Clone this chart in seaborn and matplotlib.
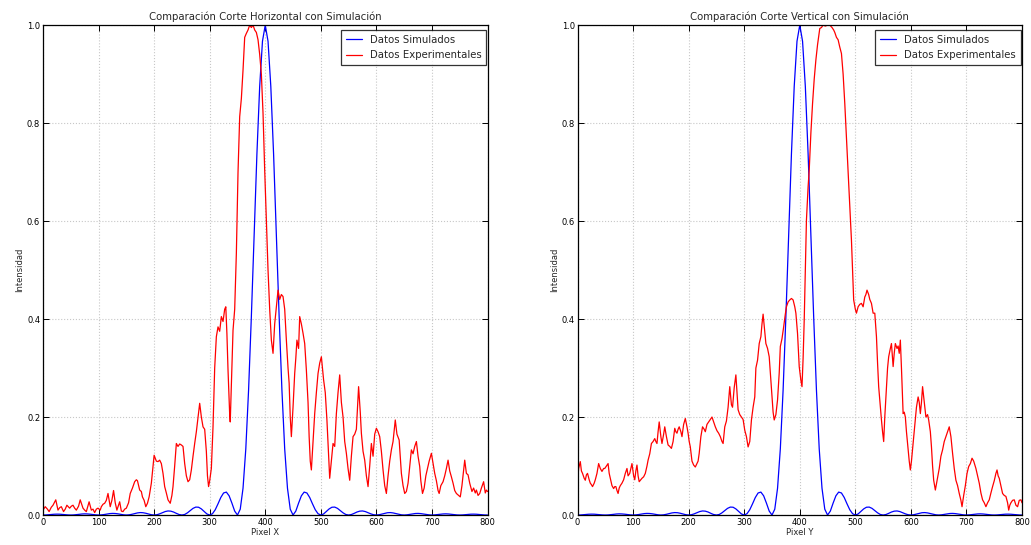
import matplotlib
matplotlib.use("Agg")
import matplotlib.pyplot as plt
import seaborn as sns
import pandas as pd

# ---------------- data ----------------
sim_x = [0, 5, 10, 15, 20, 25, 30, 35, 40, 45, 50, 55, 60, 65, 70, 75, 80, 85, 90, 95,
         100, 105, 110, 115, 120, 125, 130, 135, 140, 145, 150, 155, 160, 165, 170, 175,
         180, 185, 190, 195, 200, 205, 210, 215, 220, 225, 230, 235, 240, 245, 250, 255,
         260, 265, 270, 275, 280, 285, 290, 295, 300, 305, 310, 315, 320, 325, 330, 335,
         340, 345, 350, 355, 360, 365, 370, 375, 380, 385, 390, 395, 400, 405, 410, 415,
         420, 425, 430, 435, 440, 445, 450, 455, 460, 465, 470, 475, 480, 485, 490, 495,
         500, 505, 510, 515, 520, 525, 530, 535, 540, 545, 550, 555, 560, 565, 570, 575,
         580, 585, 590, 595, 600, 605, 610, 615, 620, 625, 630, 635, 640, 645, 650, 655,
         660, 665, 670, 675, 680, 685, 690, 695, 700, 705, 710, 715, 720, 725, 730, 735,
         740, 745, 750, 755, 760, 765, 770, 775, 780, 785, 790, 795, 800]
sim_y = [0.0, 0.0001, 0.0005, 0.0011, 0.0016, 0.0018, 0.0017, 0.0013, 0.0007, 0.0002,
         0.0, 0.0002, 0.0007, 0.0014, 0.0021, 0.0024, 0.0022, 0.0017, 0.0009, 0.0003,
         0.0, 0.0003, 0.0010, 0.0020, 0.0029, 0.0033, 0.0031, 0.0024, 0.0013, 0.0004,
         0.0, 0.0004, 0.0015, 0.0030, 0.0043, 0.0050, 0.0047, 0.0036, 0.0020, 0.0006,
         0.0, 0.0006, 0.0024, 0.0048, 0.0071, 0.0083, 0.0079, 0.0061, 0.0034, 0.0010,
         0.0, 0.0011, 0.0045, 0.0091, 0.0136, 0.0162, 0.0159, 0.0125, 0.0072, 0.0022,
         0.0, 0.0027, 0.0108, 0.0229, 0.0358, 0.0450, 0.0468, 0.0392, 0.0243, 0.0080,
         0.0, 0.0119, 0.0547, 0.135, 0.255, 0.405, 0.573, 0.737, 0.875, 0.967,
         1.0,
         0.967, 0.875, 0.737, 0.573, 0.405, 0.255, 0.135, 0.0547, 0.0119, 0.0,
         0.0080, 0.0243, 0.0392, 0.0468, 0.0450, 0.0358, 0.0229, 0.0108, 0.0027, 0.0,
         0.0022, 0.0072, 0.0125, 0.0159, 0.0162, 0.0136, 0.0091, 0.0045, 0.0011, 0.0,
         0.0010, 0.0034, 0.0061, 0.0079, 0.0083, 0.0071, 0.0048, 0.0024, 0.0006, 0.0,
         0.0006, 0.0020, 0.0036, 0.0047, 0.0050, 0.0043, 0.0030, 0.0015, 0.0004, 0.0,
         0.0004, 0.0013, 0.0024, 0.0031, 0.0033, 0.0029, 0.0020, 0.0010, 0.0003, 0.0,
         0.0003, 0.0009, 0.0017, 0.0022, 0.0024, 0.0021, 0.0014, 0.0007, 0.0002, 0.0,
         0.0002, 0.0007, 0.0013, 0.0017, 0.0018, 0.0016, 0.0011, 0.0005, 0.0001, 0.0]

horiz_x = [0, 4, 8, 11, 15, 18, 23, 27, 30, 33, 37, 40, 43, 48, 51, 54, 57, 60, 64, 67,
           72, 75, 78, 83, 87, 90, 93, 96, 99, 103, 105, 108, 111, 114, 117, 121, 124, 127,
           130, 133, 136, 138, 141, 144, 147, 150, 154, 157, 161, 165, 168, 170, 174, 177,
           179, 182, 185, 188, 191, 195, 198, 200, 204, 207, 210, 213, 216, 219, 222, 225,
           229, 232, 234, 237, 240, 243, 246, 249, 252, 255, 258, 261, 264, 267, 270, 273,
           276, 279, 282, 285, 288, 291, 294, 296, 298, 300, 303, 306, 309, 312, 315, 318,
           321, 324, 327, 329, 331, 333, 336, 337, 340, 342, 345, 348, 351, 354, 357, 360,
           363, 366, 369, 372, 375, 378, 381, 384, 387, 390, 393, 396, 399, 402, 405, 408,
           411, 414, 417, 420, 423, 426, 429, 432, 435, 438, 441, 443, 445, 447, 450, 453,
           455, 457, 460, 462, 465, 468, 471, 474, 477, 479, 481, 483, 486, 489, 492, 495,
           498, 501, 503, 505, 508, 511, 514, 516, 519, 522, 525, 528, 531, 534, 537, 540,
           543, 546, 549, 552, 555, 558, 561, 564, 566, 568, 571, 573, 576, 579, 582, 585,
           588, 591, 594, 597, 600, 603, 606, 609, 612, 615, 618, 621, 624, 627, 630, 634,
           637, 641, 643, 645, 648, 651, 654, 657, 660, 663, 666, 669, 672, 675, 678, 680,
           683, 686, 689, 692, 695, 699, 702, 705, 708, 711, 713, 716, 720, 723, 726, 729,
           732, 735, 738, 741, 744, 748, 751, 754, 757, 759, 762, 765, 768, 772, 775, 778,
           780, 783, 786, 789, 793, 796, 798, 800]
horiz_y = [0.010, 0.017, 0.012, 0.007, 0.016, 0.020, 0.031, 0.010, 0.015, 0.017, 0.007,
           0.012, 0.020, 0.014, 0.018, 0.020, 0.014, 0.010, 0.018, 0.031, 0.014, 0.010,
           0.007, 0.027, 0.010, 0.012, 0.005, 0.012, 0.014, 0.010, 0.017, 0.022, 0.024,
           0.030, 0.044, 0.017, 0.030, 0.050, 0.025, 0.010, 0.020, 0.027, 0.008, 0.007,
           0.012, 0.014, 0.025, 0.044, 0.055, 0.068, 0.072, 0.070, 0.051, 0.048, 0.037,
           0.030, 0.017, 0.024, 0.037, 0.065, 0.100, 0.122, 0.110, 0.109, 0.112, 0.105,
           0.085, 0.058, 0.045, 0.031, 0.024, 0.040, 0.058, 0.100, 0.146, 0.140, 0.145,
           0.143, 0.140, 0.105, 0.080, 0.068, 0.072, 0.092, 0.120, 0.146, 0.170, 0.200,
           0.228, 0.200, 0.180, 0.175, 0.130, 0.080, 0.058, 0.070, 0.095, 0.180, 0.300,
           0.364, 0.384, 0.375, 0.405, 0.395, 0.420, 0.425, 0.370, 0.296, 0.205, 0.190,
           0.300, 0.377, 0.420, 0.534, 0.700, 0.813, 0.850, 0.908, 0.975, 0.983, 0.990,
           1.000, 0.995, 1.000, 0.990, 0.985, 0.970, 0.940, 0.900, 0.820, 0.704, 0.600,
           0.500, 0.420, 0.357, 0.330, 0.390, 0.425, 0.459, 0.440, 0.450, 0.446, 0.420,
           0.357, 0.300, 0.269, 0.200, 0.160, 0.220, 0.289, 0.320, 0.357, 0.340, 0.405,
           0.390, 0.371, 0.350, 0.296, 0.230, 0.160, 0.110, 0.092, 0.150, 0.207, 0.250,
           0.289, 0.310, 0.323, 0.300, 0.276, 0.250, 0.194, 0.120, 0.075, 0.110, 0.146,
           0.140, 0.207, 0.250, 0.286, 0.230, 0.200, 0.150, 0.126, 0.095, 0.071, 0.120,
           0.160, 0.165, 0.175, 0.220, 0.262, 0.210, 0.167, 0.130, 0.112, 0.080, 0.058,
           0.100, 0.146, 0.120, 0.165, 0.177, 0.170, 0.160, 0.130, 0.092, 0.060, 0.044,
           0.080, 0.110, 0.133, 0.150, 0.194, 0.165, 0.153, 0.120, 0.085, 0.060, 0.044,
           0.048, 0.065, 0.100, 0.133, 0.125, 0.140, 0.150, 0.120, 0.099, 0.070, 0.044,
           0.055, 0.080, 0.095, 0.110, 0.126, 0.105, 0.085, 0.070, 0.050, 0.044, 0.060,
           0.068, 0.080, 0.095, 0.112, 0.090, 0.078, 0.065, 0.050, 0.044, 0.040, 0.037,
           0.060, 0.090, 0.112, 0.085, 0.082, 0.065, 0.048, 0.055, 0.045, 0.051, 0.040,
           0.044, 0.055, 0.068, 0.045, 0.051, 0.048]

vert_x = [0, 2, 5, 7, 9, 12, 14, 16, 18, 21, 23, 25, 27, 30, 32, 35, 38, 41, 44, 47, 49,
          52, 55, 57, 59, 62, 65, 67, 69, 71, 73, 75, 77, 80, 83, 86, 89, 91, 94, 96, 98,
          101, 103, 105, 107, 109, 111, 114, 116, 119, 122, 125, 127, 130, 133, 136, 139,
          141, 143, 145, 147, 150, 152, 155, 157, 160, 163, 166, 169, 172, 175, 177, 179,
          181, 183, 186, 188, 191, 194, 197, 199, 201, 203, 206, 209, 212, 215, 217, 219,
          222, 225, 228, 230, 233, 236, 239, 242, 245, 248, 251, 254, 257, 260, 262, 265,
          268, 271, 274, 277, 279, 282, 285, 287, 289, 292, 295, 298, 301, 304, 307, 310,
          313, 316, 319, 321, 324, 327, 330, 332, 334, 337, 339, 342, 345, 347, 349, 352,
          354, 357, 360, 363, 365, 368, 371, 374, 376, 379, 382, 385, 388, 391, 393, 396,
          399, 402, 404, 406, 408, 410, 412, 415, 417, 420, 423, 426, 429, 432, 436, 439,
          442, 446, 450, 454, 458, 461, 463, 466, 469, 472, 475, 478, 481, 484, 487, 490,
          493, 495, 497, 500, 502, 505, 508, 511, 514, 517, 519, 521, 524, 526, 529, 532,
          535, 538, 540, 542, 545, 547, 549, 551, 553, 556, 558, 560, 563, 565, 568, 570,
          572, 575, 577, 579, 581, 583, 586, 588, 590, 592, 595, 597, 599, 601, 604, 606,
          608, 610, 613, 615, 617, 619, 621, 624, 627, 630, 632, 635, 637, 639, 641, 644,
          647, 651, 654, 657, 660, 663, 666, 669, 672, 675, 678, 681, 684, 687, 690, 692,
          695, 698, 701, 704, 707, 710, 713, 717, 720, 723, 726, 729, 732, 735, 738, 741,
          744, 747, 750, 753, 755, 757, 759, 762, 765, 768, 771, 774, 776, 778, 780, 783,
          786, 789, 792, 795, 798, 800]
vert_y = [0.068, 0.095, 0.109, 0.090, 0.085, 0.075, 0.071, 0.082, 0.085, 0.072, 0.065,
          0.062, 0.058, 0.065, 0.072, 0.085, 0.105, 0.095, 0.089, 0.095, 0.095, 0.100,
          0.105, 0.085, 0.075, 0.060, 0.054, 0.058, 0.058, 0.050, 0.044, 0.055, 0.060,
          0.065, 0.072, 0.085, 0.095, 0.080, 0.085, 0.095, 0.105, 0.080, 0.072, 0.090,
          0.102, 0.080, 0.068, 0.072, 0.075, 0.078, 0.085, 0.100, 0.112, 0.125, 0.146,
          0.150, 0.156, 0.150, 0.146, 0.170, 0.190, 0.160, 0.146, 0.165, 0.180, 0.160,
          0.143, 0.140, 0.136, 0.150, 0.177, 0.170, 0.167, 0.175, 0.180, 0.170, 0.160,
          0.185, 0.197, 0.180, 0.167, 0.150, 0.139, 0.110, 0.102, 0.098, 0.105, 0.110,
          0.126, 0.160, 0.180, 0.175, 0.170, 0.185, 0.190, 0.195, 0.200, 0.190, 0.180,
          0.172, 0.167, 0.160, 0.150, 0.146, 0.180, 0.192, 0.220, 0.262, 0.225, 0.220,
          0.260, 0.286, 0.250, 0.215, 0.205, 0.200, 0.195, 0.173, 0.160, 0.139, 0.150,
          0.194, 0.220, 0.241, 0.300, 0.316, 0.350, 0.364, 0.390, 0.410, 0.375, 0.350,
          0.340, 0.323, 0.290, 0.255, 0.210, 0.194, 0.205, 0.235, 0.290, 0.344, 0.360,
          0.384, 0.410, 0.425, 0.435, 0.439, 0.442, 0.439, 0.425, 0.412, 0.370, 0.303,
          0.275, 0.262, 0.320, 0.398, 0.500, 0.602, 0.670, 0.704, 0.780, 0.840, 0.890,
          0.929, 0.960, 0.993, 0.995, 1.000, 0.998, 1.000, 1.000, 0.995, 0.990, 0.985,
          0.975, 0.970, 0.955, 0.942, 0.900, 0.840, 0.770, 0.704, 0.630, 0.561, 0.500,
          0.439, 0.420, 0.412, 0.425, 0.430, 0.432, 0.425, 0.445, 0.450, 0.459, 0.450,
          0.440, 0.432, 0.412, 0.412, 0.364, 0.310, 0.262, 0.220, 0.194, 0.170, 0.150,
          0.200, 0.262, 0.300, 0.323, 0.340, 0.350, 0.303, 0.330, 0.350, 0.340, 0.345,
          0.330, 0.357, 0.300, 0.207, 0.210, 0.200, 0.170, 0.133, 0.110, 0.092, 0.110,
          0.146, 0.170, 0.194, 0.220, 0.241, 0.230, 0.207, 0.230, 0.262, 0.230, 0.200,
          0.205, 0.194, 0.170, 0.139, 0.100, 0.071, 0.051, 0.070, 0.095, 0.120, 0.133,
          0.150, 0.160, 0.170, 0.180, 0.160, 0.126, 0.095, 0.071, 0.060, 0.044, 0.030,
          0.017, 0.040, 0.060, 0.085, 0.099, 0.105, 0.116, 0.110, 0.095, 0.080, 0.065,
          0.045, 0.031, 0.025, 0.017, 0.025, 0.031, 0.045, 0.058, 0.070, 0.085, 0.092,
          0.080, 0.075, 0.060, 0.044, 0.040, 0.038, 0.025, 0.010, 0.020, 0.025, 0.030,
          0.031, 0.020, 0.017, 0.030, 0.031, 0.025]

titles = ["Comparación Corte Horizontal con Simulación",
          "Comparación Corte Vertical con Simulación"]
xlabels = ["Pixel X", "Pixel Y"]
ylabel = "Intensidad"
sim_label = "Datos Simulados"
exp_label = "Datos Experimentales"
x_ticks = [0, 100, 200, 300, 400, 500, 600, 700, 800]
y_ticks = [0.0, 0.2, 0.4, 0.6, 0.8, 1.0]

# ---------------- style ----------------
sns.set_theme(style="ticks")
plt.rcParams.update({
    "font.family": ["DejaVu Sans"],
    "axes.edgecolor": "black",
    "axes.linewidth": 0.9,
    "xtick.direction": "in",
    "ytick.direction": "in",
    "xtick.top": True,
    "ytick.right": True,
    "xtick.major.size": 4,
    "ytick.major.size": 4,
    "xtick.major.width": 0.7,
    "ytick.major.width": 0.7,
    "xtick.color": "black",
    "ytick.color": "black",
    "xtick.labelsize": 6,
    "ytick.labelsize": 6,
    "axes.labelsize": 6,
    "axes.titlesize": 7.3,
})

BLUE = "#0000ff"
RED = "#ff0000"

fig, axes = plt.subplots(1, 2, figsize=(10.31, 5.45), dpi=100)
fig.subplots_adjust(left=0.0417, right=0.9913, bottom=0.055, top=0.954, wspace=0.2025)

exp_sets = [(horiz_x, horiz_y), (vert_x, vert_y)]
for i, ax in enumerate(axes):
    sim_df = pd.DataFrame({"x": sim_x, "y": sim_y})
    ex, ey = exp_sets[i]
    exp_df = pd.DataFrame({"x": ex, "y": ey})
    sns.lineplot(data=sim_df, x="x", y="y", color=BLUE, linewidth=0.9, ax=ax,
                 label=sim_label)
    sns.lineplot(data=exp_df, x="x", y="y", color=RED, linewidth=0.9, ax=ax,
                 label=exp_label)
    ax.set_xlim(0, 800)
    ax.set_ylim(0, 1.0)
    ax.set_xticks(x_ticks)
    ax.set_yticks(y_ticks)
    ax.set_xticklabels([str(t) for t in x_ticks])
    ax.set_yticklabels([f"{t:.1f}" for t in y_ticks])
    ax.tick_params(axis="both", pad=2)
    ax.grid(True, color="0.78", linestyle=":", linewidth=0.8)
    ax.set_title(titles[i], pad=4, color="0.15")
    ax.set_xlabel(xlabels[i], labelpad=1, color="0.15")
    ax.set_ylabel(ylabel, labelpad=2, color="0.15")
    leg = ax.legend(loc="upper right", bbox_to_anchor=(0.997, 0.99), borderaxespad=0,
                    fontsize=7.3, frameon=True, fancybox=False, edgecolor="black",
                    handlelength=1.6, labelspacing=0.55, borderpad=0.45)
    leg.get_frame().set_linewidth(0.9)
    for t in leg.get_texts():
        t.set_color("0.15")

fig.savefig("out.png", dpi=100)
